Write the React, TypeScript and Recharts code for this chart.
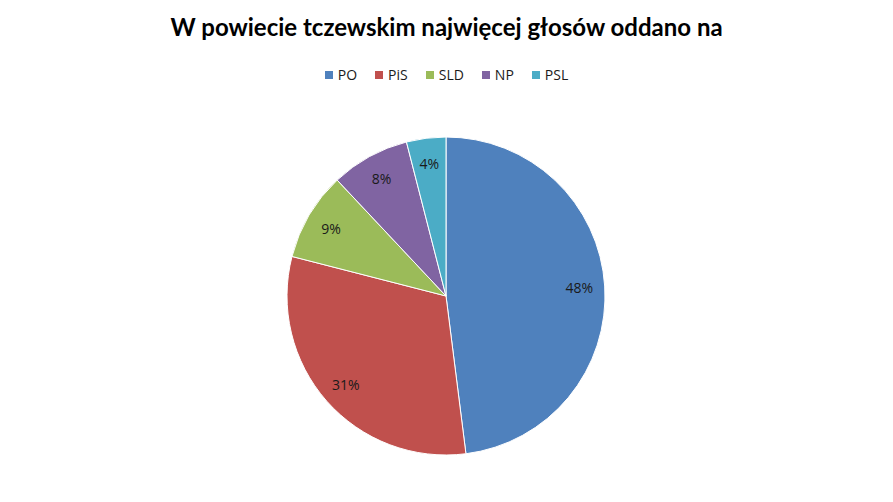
import React from "react";
import { PieChart, Pie, Cell } from "recharts";

const categories = ["PO", "PiS", "SLD", "NP", "PSL"];
const shares = [48, 31, 9, 8, 4];
const colors = ["#4F81BD", "#C0504D", "#9BBB59", "#8064A2", "#4BACC6"];
const title = "W powiecie tczewskim najwięcej głosów oddano na";

const data = categories.map((name, i) => ({ name, value: shares[i] }));

const RAD = Math.PI / 180;

const renderLabel = (props: any) => {
  const { cx, cy, midAngle, outerRadius, percent } = props;
  const r = outerRadius * 0.84;
  const x = cx + r * Math.cos(-midAngle * RAD);
  const y = cy + r * Math.sin(-midAngle * RAD);
  return (
    <text
      x={x}
      y={y}
      fill="#1a1a1a"
      textAnchor="middle"
      dominantBaseline="central"
      fontSize={14}
      fontFamily="'Open Sans', sans-serif"
    >
      {`${Math.round(percent * 100)}%`}
    </text>
  );
};

export default function App() {
  return (
    <div style={{ position: "absolute", left: 0, top: 0, width: 893, height: 502, background: "#fff" }}>
      <div
        style={{
          position: "absolute",
          left: 0,
          top: 12,
          width: 893,
          textAlign: "center",
          fontFamily: "Lato, sans-serif",
          fontWeight: 700,
          fontSize: 24,
          color: "#000",
        }}
      >
        {title}
      </div>
      <div
        style={{
          position: "absolute",
          left: 0,
          top: 65,
          width: 893,
          display: "flex",
          justifyContent: "center",
          gap: 18,
          fontFamily: "'Open Sans', sans-serif",
          fontSize: 14,
          color: "#1a1a1a",
        }}
      >
        {data.map((d, i) => (
          <div key={d.name} style={{ display: "flex", alignItems: "center" }}>
            <span
              style={{
                display: "inline-block",
                width: 8,
                height: 8,
                background: colors[i],
                marginRight: 5,
              }}
            />
            <span>{d.name}</span>
          </div>
        ))}
      </div>
      <PieChart width={893} height={502} margin={{ top: 0, right: 0, bottom: 0, left: 0 }}>
        <Pie
          data={data}
          dataKey="value"
          nameKey="name"
          cx={446}
          cy={296}
          outerRadius={159}
          startAngle={90}
          endAngle={-270}
          stroke="#fff"
          strokeWidth={1}
          label={renderLabel}
          labelLine={false}
          isAnimationActive={false}
        >
          {data.map((d, i) => (
            <Cell key={d.name} fill={colors[i]} />
          ))}
        </Pie>
      </PieChart>
    </div>
  );
}
